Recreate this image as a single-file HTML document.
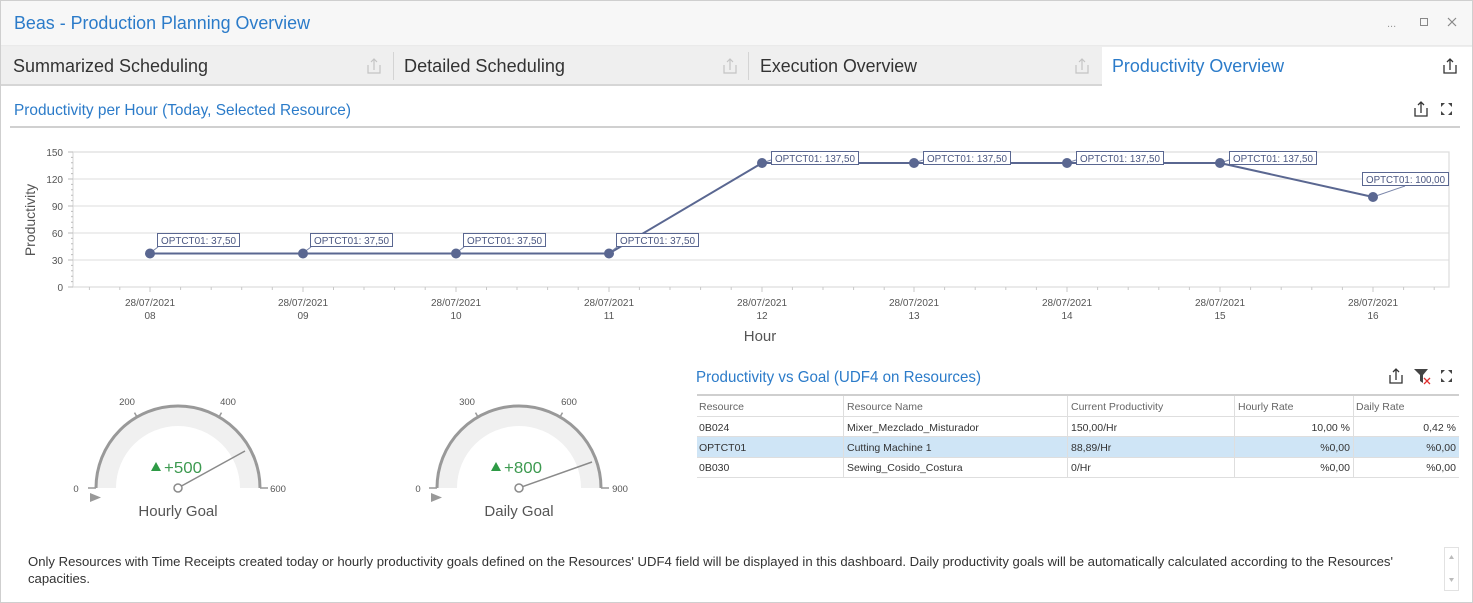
<!DOCTYPE html>
<html><head><meta charset="utf-8"><style>
html,body{margin:0;padding:0;background:#fff;}
svg{display:block;font-family:"Liberation Sans",sans-serif;}
</style></head><body>
<svg width="1473" height="603" viewBox="0 0 1473 603" xmlns="http://www.w3.org/2000/svg">
<!-- outer -->
<rect x="0.5" y="0.5" width="1472" height="602" fill="#fff" stroke="#cfcfcf"/>
<!-- title bar -->
<rect x="1" y="1" width="1471" height="45" fill="#f7f7f7"/>
<line x1="1" y1="46" x2="1472" y2="46" stroke="#dcdcdc"/>
<text x="14" y="29" font-size="18" fill="#2b7bc9" textLength="296" lengthAdjust="spacingAndGlyphs">Beas - Production Planning Overview</text>
<text x="1387" y="27" font-size="11" fill="#999">...</text>
<rect x="1420.5" y="18.5" width="7" height="7" fill="none" stroke="#888"/>
<path d="M1448 18 L1456 26 M1456 18 L1448 26" stroke="#888" stroke-width="1.2"/>
<!-- tab bar -->
<rect x="1" y="47" width="1471" height="38" fill="#efefef"/>
<line x1="1" y1="85" x2="1472" y2="85" stroke="#d6d6d6" stroke-width="2"/>
<rect x="1102" y="47" width="370" height="39" fill="#fff"/>
<line x1="393.5" y1="52" x2="393.5" y2="80" stroke="#d4d4d4"/>
<line x1="748.5" y1="52" x2="748.5" y2="80" stroke="#d4d4d4"/>
<text x="13" y="72" font-size="18" fill="#333" textLength="195" lengthAdjust="spacingAndGlyphs">Summarized Scheduling</text>
<text x="404" y="72" font-size="18" fill="#333" textLength="161" lengthAdjust="spacingAndGlyphs">Detailed Scheduling</text>
<text x="760" y="72" font-size="18" fill="#333" textLength="157" lengthAdjust="spacingAndGlyphs">Execution Overview</text>
<text x="1112" y="72" font-size="18" fill="#2b7bc9" textLength="172" lengthAdjust="spacingAndGlyphs">Productivity Overview</text>
<!-- export icons -->
<g fill="none" stroke="#c4c4c4" stroke-width="1.2">
<path d="M368 65 V73 H380 V65 M374 70 V59 M371 62 L374 59 L377 62"/>
<path d="M724 65 V73 H736 V65 M730 70 V59 M727 62 L730 59 L733 62"/>
<path d="M1076 65 V73 H1088 V65 M1082 70 V59 M1079 62 L1082 59 L1085 62"/>
</g>
<g fill="none" stroke="#333" stroke-width="1.3">
<path d="M1444 65 V73 H1456 V65 M1450 70 V59 M1447 62 L1450 59 L1453 62"/>
<path d="M1415 108 V116 H1427 V108 M1421 113 V102 M1418 105 L1421 102 L1424 105"/>
<path d="M1390 375 V383 H1402 V375 M1396 380 V369 M1393 372 L1396 369 L1399 372"/>
</g>
<!-- fullscreen icons -->
<g fill="#444">
<path d="M1441 103 h4 l-4 4 z M1452 103 h-4 l4 4 z M1441 115 h4 l-4 -4 z M1452 115 h-4 l4 -4 z"/>
<path d="M1441 370 h4 l-4 4 z M1452 370 h-4 l4 4 z M1441 382 h4 l-4 -4 z M1452 382 h-4 l4 -4 z"/>
</g>
<!-- filter icon -->
<path d="M1414 369 H1428 L1423 375 V383 L1420 381 V375 Z" fill="#444"/>
<path d="M1424 378 L1430 384 M1430 378 L1424 384" stroke="#e03030" stroke-width="1.3"/>
<!-- section title -->
<text x="14" y="115" font-size="16" fill="#2b7bc9" textLength="337" lengthAdjust="spacingAndGlyphs">Productivity per Hour (Today, Selected Resource)</text>
<line x1="10" y1="127" x2="1460" y2="127" stroke="#d0d0d0" stroke-width="2"/>
<!-- chart grid -->
<g stroke="#e3e3e3" stroke-width="1.2">
<line x1="73" y1="179" x2="1449" y2="179"/>
<line x1="73" y1="206" x2="1449" y2="206"/>
<line x1="73" y1="233" x2="1449" y2="233"/>
<line x1="73" y1="260" x2="1449" y2="260"/>
</g>
<rect x="73" y="152" width="1376" height="135" fill="none" stroke="#dcdcdc" stroke-width="1.2"/>
<!-- y ticks -->
<g stroke="#bbb" stroke-width="1">
<path d="M68 152H73M68 179H73M68 206H73M68 233H73M68 260H73M68 287H73"/>
<path d="M71 157.4H73M71 162.8H73M71 168.2H73M71 173.6H73M71 184.4H73M71 189.8H73M71 195.2H73M71 200.6H73M71 211.4H73M71 216.8H73M71 222.2H73M71 227.6H73M71 238.4H73M71 243.8H73M71 249.2H73M71 254.6H73M71 265.4H73M71 270.8H73M71 276.2H73M71 281.6H73"/>
</g>
<g font-size="10" fill="#555" text-anchor="end">
<text x="63" y="156">150</text><text x="63" y="183">120</text><text x="63" y="210">90</text><text x="63" y="237">60</text><text x="63" y="264">30</text><text x="63" y="291">0</text>
</g>
<text transform="translate(35,220) rotate(-90)" font-size="14" fill="#555" text-anchor="middle">Productivity</text>
<!-- x ticks -->
<g stroke="#c8c8c8" stroke-width="1">
<path d="M89.4 287v3M119.8 287v3M150 287v5M180.6 287v3M211.2 287v3M241.7 287v3M272.3 287v3M303 287v5M333.5 287v3M364 287v3M394.6 287v3M425.2 287v3M456 287v5M486.5 287v3M517 287v3M547.6 287v3M578.2 287v3M609 287v5M639.4 287v3M670 287v3M700.6 287v3M731.2 287v3M762 287v5M792.4 287v3M823 287v3M853.6 287v3M884.2 287v3M914 287v5M944.6 287v3M975.2 287v3M1005.8 287v3M1036.4 287v3M1067 287v5M1097.6 287v3M1128.2 287v3M1158.8 287v3M1189.4 287v3M1220 287v5M1250.6 287v3M1281.2 287v3M1311.8 287v3M1342.4 287v3M1373 287v5M1403.6 287v3M1434.2 287v3"/>
</g>
<g font-size="10" fill="#555" text-anchor="middle">
<text x="150" y="306">28/07/2021</text><text x="150" y="319">08</text>
<text x="303" y="306">28/07/2021</text><text x="303" y="319">09</text>
<text x="456" y="306">28/07/2021</text><text x="456" y="319">10</text>
<text x="609" y="306">28/07/2021</text><text x="609" y="319">11</text>
<text x="762" y="306">28/07/2021</text><text x="762" y="319">12</text>
<text x="914" y="306">28/07/2021</text><text x="914" y="319">13</text>
<text x="1067" y="306">28/07/2021</text><text x="1067" y="319">14</text>
<text x="1220" y="306">28/07/2021</text><text x="1220" y="319">15</text>
<text x="1373" y="306">28/07/2021</text><text x="1373" y="319">16</text>
</g>
<text x="760" y="341" font-size="15" fill="#555" text-anchor="middle">Hour</text>
<!-- series -->
<polyline points="150,253.5 303,253.5 456,253.5 609,253.5 762,163 914,163 1067,163 1220,163 1373,197" fill="none" stroke="#5a6791" stroke-width="2"/>
<!-- connectors -->
<g stroke="#7a86aa" stroke-width="1">
<path d="M150 253 L158 247 M303 253 L311 247 M456 253 L464 247 M609 253 L617 247"/>
<path d="M762 163 L771 160 M914 163 L923 160 M1067 163 L1076 160 M1220 163 L1229 160 M1373 197 L1405 186"/>
</g>
<g fill="#5a6791">
<circle cx="150" cy="253.5" r="5"/><circle cx="303" cy="253.5" r="5"/><circle cx="456" cy="253.5" r="5"/><circle cx="609" cy="253.5" r="5"/>
<circle cx="762" cy="163" r="5"/><circle cx="914" cy="163" r="5"/><circle cx="1067" cy="163" r="5"/><circle cx="1220" cy="163" r="5"/><circle cx="1373" cy="197" r="5"/>
</g>
<!-- labels -->
<g fill="#fff" stroke="#5a6791" stroke-width="1">
<rect x="157.5" y="233.5" width="82" height="13"/>
<rect x="310.5" y="233.5" width="82" height="13"/>
<rect x="463.5" y="233.5" width="82" height="13"/>
<rect x="616.5" y="233.5" width="82" height="13"/>
<rect x="771.5" y="151.5" width="87" height="13"/>
<rect x="923.5" y="151.5" width="87" height="13"/>
<rect x="1076.5" y="151.5" width="87" height="13"/>
<rect x="1229.5" y="151.5" width="87" height="13"/>
<rect x="1362.5" y="172.5" width="86" height="13"/>
</g>
<g font-size="10" fill="#4a5680">
<text x="161" y="244" textLength="75" lengthAdjust="spacingAndGlyphs">OPTCT01: 37,50</text>
<text x="314" y="244" textLength="75" lengthAdjust="spacingAndGlyphs">OPTCT01: 37,50</text>
<text x="467" y="244" textLength="75" lengthAdjust="spacingAndGlyphs">OPTCT01: 37,50</text>
<text x="620" y="244" textLength="75" lengthAdjust="spacingAndGlyphs">OPTCT01: 37,50</text>
<text x="775" y="162" textLength="80" lengthAdjust="spacingAndGlyphs">OPTCT01: 137,50</text>
<text x="927" y="162" textLength="80" lengthAdjust="spacingAndGlyphs">OPTCT01: 137,50</text>
<text x="1080" y="162" textLength="80" lengthAdjust="spacingAndGlyphs">OPTCT01: 137,50</text>
<text x="1233" y="162" textLength="80" lengthAdjust="spacingAndGlyphs">OPTCT01: 137,50</text>
<text x="1366" y="183" textLength="79" lengthAdjust="spacingAndGlyphs">OPTCT01: 100,00</text>
</g>
<!-- gauge 1 -->
<g>
<path d="M96 488 A82 82 0 0 1 260 488 L240 488 A62 62 0 0 0 116 488 Z" fill="#f0f0f0"/>
<path d="M96 488 A82 82 0 0 1 260 488" fill="none" stroke="#999" stroke-width="3"/>
<path d="M88 488H96M260 488H268" stroke="#999" stroke-width="1.5"/>
<path d="M137 417 L134.5 412.6 M219 417 L221.5 412.6" stroke="#999" stroke-width="1.5"/>
<g font-size="9.5" fill="#555" text-anchor="middle">
<text x="76" y="492">0</text><text x="278" y="492">600</text><text x="127" y="405">200</text><text x="228" y="405">400</text>
</g>
<line x1="181.5" y1="486" x2="245" y2="451" stroke="#8a8a8a" stroke-width="1.5"/>
<circle cx="178" cy="488" r="4" fill="#fff" stroke="#8a8a8a" stroke-width="1.5"/>
<polygon points="90,493 101,497.5 90,502" fill="#999"/>
<polygon points="151,471 156,462 161,471" fill="#2e9a45"/>
<text x="164" y="473" font-size="16" fill="#3d9a50" textLength="38" lengthAdjust="spacingAndGlyphs">+500</text>
<text x="178" y="516" font-size="15" fill="#555" text-anchor="middle">Hourly Goal</text>
</g>
<!-- gauge 2 -->
<g>
<path d="M437 488 A82 82 0 0 1 601 488 L581 488 A62 62 0 0 0 457 488 Z" fill="#f0f0f0"/>
<path d="M437 488 A82 82 0 0 1 601 488" fill="none" stroke="#999" stroke-width="3"/>
<path d="M429 488H437M601 488H609" stroke="#999" stroke-width="1.5"/>
<path d="M478 417 L475.5 412.6 M560 417 L562.5 412.6" stroke="#999" stroke-width="1.5"/>
<g font-size="9.5" fill="#555" text-anchor="middle">
<text x="418" y="492">0</text><text x="620" y="492">900</text><text x="467" y="405">300</text><text x="569" y="405">600</text>
</g>
<line x1="522.8" y1="486.6" x2="592" y2="462" stroke="#8a8a8a" stroke-width="1.5"/>
<circle cx="519" cy="488" r="4" fill="#fff" stroke="#8a8a8a" stroke-width="1.5"/>
<polygon points="431,493 442,497.5 431,502" fill="#999"/>
<polygon points="491,471 496,462 501,471" fill="#2e9a45"/>
<text x="504" y="473" font-size="16" fill="#3d9a50" textLength="38" lengthAdjust="spacingAndGlyphs">+800</text>
<text x="519" y="516" font-size="15" fill="#555" text-anchor="middle">Daily Goal</text>
</g>
<!-- table -->
<text x="696" y="382" font-size="16" fill="#2b7bc9" textLength="285" lengthAdjust="spacingAndGlyphs">Productivity vs Goal (UDF4 on Resources)</text>
<rect x="697" y="437" width="762" height="20" fill="#cfe5f6"/>
<line x1="697" y1="395" x2="1459" y2="395" stroke="#cfcfcf" stroke-width="2"/>
<g stroke="#dedede" stroke-width="1">
<line x1="697" y1="416.5" x2="1459" y2="416.5"/>
<line x1="697" y1="436.5" x2="1459" y2="436.5"/>
<line x1="697" y1="457.5" x2="1459" y2="457.5"/>
<line x1="697" y1="477.5" x2="1459" y2="477.5"/>
<line x1="843.5" y1="396" x2="843.5" y2="477"/>
<line x1="1067.5" y1="396" x2="1067.5" y2="477"/>
<line x1="1234.5" y1="396" x2="1234.5" y2="477"/>
<line x1="1353.5" y1="396" x2="1353.5" y2="477"/>
</g>
<g font-size="10.5" fill="#666">
<text x="699" y="410">Resource</text>
<text x="847" y="410">Resource Name</text>
<text x="1071" y="410">Current Productivity</text>
<text x="1238" y="410">Hourly Rate</text>
<text x="1356" y="410">Daily Rate</text>
</g>
<g font-size="10.5" fill="#333">
<text x="699" y="431">0B024</text><text x="847" y="431">Mixer_Mezclado_Misturador</text><text x="1071" y="431">150,00/Hr</text>
<text x="1350" y="431" text-anchor="end">10,00 %</text><text x="1456" y="431" text-anchor="end">0,42 %</text>
<text x="699" y="451">OPTCT01</text><text x="847" y="451">Cutting Machine 1</text><text x="1071" y="451">88,89/Hr</text>
<text x="1350" y="451" text-anchor="end">%0,00</text><text x="1456" y="451" text-anchor="end">%0,00</text>
<text x="699" y="471">0B030</text><text x="847" y="471">Sewing_Cosido_Costura</text><text x="1071" y="471">0/Hr</text>
<text x="1350" y="471" text-anchor="end">%0,00</text><text x="1456" y="471" text-anchor="end">%0,00</text>
</g>
<!-- footer -->
<g font-size="12.5" fill="#333">
<text x="28" y="566" textLength="1365" lengthAdjust="spacingAndGlyphs">Only Resources with Time Receipts created today or hourly productivity goals defined on the Resources' UDF4 field will be displayed in this dashboard. Daily productivity goals will be automatically calculated according to the Resources'</text>
<text x="28" y="583" textLength="62" lengthAdjust="spacingAndGlyphs">capacities.</text>
</g>
<rect x="1444.5" y="547.5" width="14" height="43" fill="#fff" stroke="#e2e2e2"/>
<polygon points="1449,559 1451.5,555 1454,559" fill="#bbb"/>
<polygon points="1449,578 1451.5,582 1454,578" fill="#bbb"/>
</svg>
</body></html>
